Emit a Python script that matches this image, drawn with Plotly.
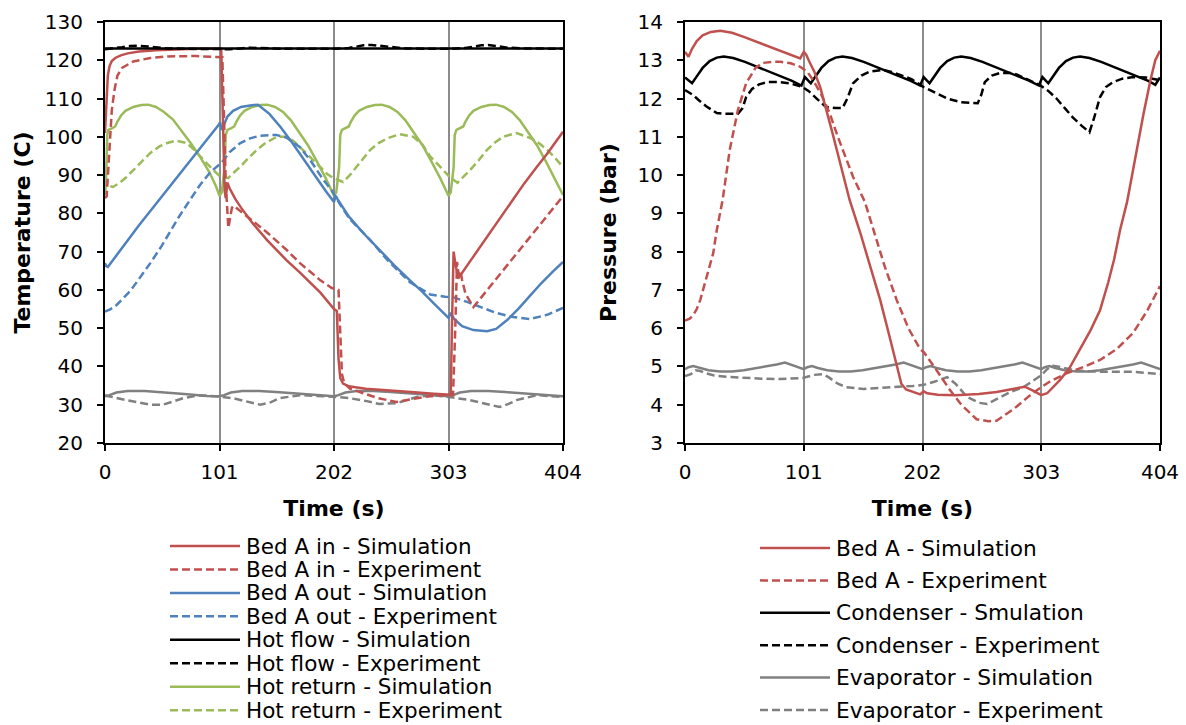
import plotly.graph_objects as go

W, H = 1186, 725

# ---------------- Left chart: temperatures (C) vs time (s) ----------------
hot_flow_sim_t = [0, 101, 202, 303, 404]
hot_flow_sim_v = [123.1, 123.1, 123.1, 123.1, 123.1]

hot_flow_exp_t = [0, 8, 15, 22, 30, 38, 46, 55, 70, 85, 101, 110, 120, 128, 136, 145, 160, 180, 202,
                  215, 222, 228, 235, 242, 250, 265, 285, 303, 318, 326, 332, 338, 345, 355, 370, 390, 404]
hot_flow_exp_v = [122.9, 123.1, 123.4, 123.7, 123.8, 123.6, 123.3, 123.1, 123.0, 123.0, 122.9, 122.9, 123.1,
                  123.3, 123.2, 123.1, 123.0, 123.0, 123.0, 123.2, 123.6, 123.9, 124.0, 123.8, 123.4, 123.1,
                  123.0, 123.0, 123.2, 123.6, 123.9, 124.0, 123.7, 123.3, 123.1, 123.0, 123.0]

bed_in_sim_t = [0, 0.7, 1.5, 2.5, 4, 6, 9, 14, 20, 30, 45, 60, 80, 100, 102.5, 104, 105.5, 106.5, 108, 110,
                115, 120, 130, 143, 160, 172, 190, 202, 204.5, 206, 207.5, 210, 215, 230, 250, 270, 290, 305,
                306, 307.5, 309, 311.5, 320, 330, 340, 350, 360, 370, 380, 390, 404]
bed_in_sim_v = [101.0, 106, 112, 116, 118.5, 119.8, 120.6, 121.3, 121.8, 122.3, 122.6, 122.8, 123.0, 123.0,
                123.0, 105, 86, 84, 88, 86.5, 83.7, 81.5, 77.5, 73, 67.8, 64.5, 59.3, 55, 54.5, 42, 37, 35.5,
                34.8, 34.2, 33.7, 33.3, 32.9, 32.6, 50, 70, 67, 63, 66.6, 70.9, 75.2, 79.5, 83.8, 87.9, 91.8,
                95.6, 101.3]

bed_in_exp_t = [0, 1.5, 3, 4.5, 6, 8.5, 11, 15, 25, 40, 55, 80, 100, 103.5, 105, 106.5, 108.8, 110.5, 112,
                113.5, 120, 130, 143, 160, 172, 190, 200, 206, 207.5, 209, 211, 216, 228, 240, 257, 270, 281,
                298, 307, 309, 310.5, 312, 313.5, 315, 318, 325, 340, 355, 370, 385, 404]
bed_in_exp_v = [84, 84.5, 92, 101, 107, 112.5, 116, 118, 119.7, 120.6, 121, 121.1, 121, 120.8, 105, 88, 76.2,
                79, 81.5, 82, 80.5, 78, 75, 70.5, 67, 62.5, 60.5, 60, 48, 38, 35.7, 34.2, 33, 31.8, 30.7,
                31.3, 32, 32.5, 32.5, 50, 67.3, 64, 65, 62.6, 59, 55.5, 61, 66.5, 72, 77.5, 84.5]

bed_out_sim_t = [0, 1, 2.5, 5, 10, 20, 30, 40, 50, 60, 70, 80, 90, 100, 101.5, 103, 105, 108, 113, 120, 128,
                 135, 145, 155, 165, 175, 185, 195, 202, 203.5, 205, 215, 228, 240, 255, 269, 280, 290, 300,
                 303, 305, 308, 315, 325, 337, 345, 355, 365, 375, 385, 395, 404]
bed_out_sim_v = [67, 66.2, 66, 67, 69.2, 73, 76.9, 80.6, 84.4, 88.1, 91.8, 95.6, 99.3, 103, 103.8, 101.8,
                 103.2, 105.3, 106.8, 107.8, 108.2, 108.4, 106, 102.5, 98.5, 94.2, 89.8, 85.7, 83, 84.6, 83.8,
                 79.2, 74.8, 71, 66.5, 62.5, 59.5, 56.5, 53.5, 52.7, 54, 52.4, 50.5, 49.5, 49.2, 49.8, 52.2,
                 55.2, 58.5, 61.8, 64.8, 67.3]

bed_out_exp_t = [0, 5, 10, 15, 20, 25, 30, 40, 50, 56, 65, 75, 84, 93, 103, 110, 119, 128, 137, 151, 160,
                 172, 182, 192, 200, 207, 216, 234, 250, 269, 287, 300, 307, 320, 331, 345, 360, 375, 390, 404]
bed_out_exp_v = [54.3, 55, 56, 57.5, 59, 60.8, 62.8, 67, 71.5, 74.5, 79, 83.5, 87.5, 90.8, 93.3, 96, 98.3,
                 99.6, 100.3, 100.5, 99.8, 97.3, 93.5, 89, 86, 82.5, 78.5, 73, 67.5, 62, 58.8, 58.2, 58.1,
                 56.8, 55.5, 54, 52.9, 52.4, 53.5, 55.3]

hot_ret_sim_t = [0, 0.8, 2, 3, 6, 9, 11, 14, 18, 25, 32, 38, 45, 52, 60, 68, 76, 84, 92, 98,
                 101, 103, 105.5, 106.5, 108, 111, 114, 116, 119, 123, 130, 137, 143, 150, 157, 164, 171, 179, 187, 195,
                 202, 204, 206.5, 207.5, 209, 212, 215, 217, 220, 224, 231, 238, 244, 251, 258, 265, 272, 280, 288, 296,
                 303, 305, 307.5, 308.5, 310, 313, 316, 318, 321, 325, 332, 339, 345, 352, 359, 366, 373, 381, 389, 397,
                 404]
hot_ret_sim_v = [84.8, 88, 100.5, 101.8, 102.2, 102.7, 104, 105.5, 106.8, 107.8, 108.3, 108.4, 107.8, 106.5,
                 104.5, 101.5, 98.2, 94.7, 90.8, 87,
                 84.6, 85.5, 92, 100.5, 101.8, 102.2, 102.7, 104, 105.5, 106.8, 107.8, 108.3, 108.4, 107.8, 106.5,
                 104.3, 101.3, 97.8, 93.5, 89,
                 84.6, 85.5, 92, 100.5, 101.8, 102.2, 102.7, 104, 105.5, 106.8, 107.8, 108.3, 108.4, 107.8, 106.5,
                 104.3, 101.3, 97.8, 93.5, 89,
                 84.6, 85.5, 92, 100.5, 101.8, 102.2, 102.7, 104, 105.5, 106.8, 107.8, 108.3, 108.4, 107.8, 106.5,
                 104.3, 101.3, 97.8, 93.5, 89,
                 84.8]

hot_ret_exp_t = [0, 1.6, 4, 7, 13, 19, 25, 32, 40, 48, 55, 63, 72, 78, 84, 90, 96, 101, 104, 108.6, 113, 119,
                 126, 134, 142, 151.5, 160, 166, 172, 178, 184, 190, 196, 201, 205, 210, 216, 222, 228, 234, 241,
                 249, 260, 272, 280, 287, 293, 298, 304, 311, 316, 322, 330, 337, 344, 351, 363, 375, 383, 390,
                 397, 404]
hot_ret_exp_v = [89.8, 88, 87.2, 86.9, 88, 89.5, 91.3, 93.5, 95.8, 97.5, 98.4, 99, 98.4, 96.8, 94.8, 93, 91.2,
                 89.8, 89.5, 89.2, 90.5, 92.1, 94.3, 96.6, 98.5, 100, 100, 99, 97.3, 95.6, 93.9, 92, 90.3, 89.3,
                 88.8, 88.2, 90, 92.1, 94.4, 96.6, 98.3, 99.6, 100.7, 100, 98, 94.8, 93, 91.3, 89.5, 88, 89.5,
                 91.3, 94, 96.6, 98.5, 100, 101, 99.7, 98.3, 96.6, 94.5, 92.1]

cold_sim_t = [0, 4, 10, 20, 35, 50, 70, 90, 101, 105, 111, 121, 136, 151, 171, 191,
              202, 206, 212, 222, 237, 252, 272, 292, 303, 307, 313, 323, 338, 353, 373, 393, 404]
cold_sim_v = [32.2, 32.5, 33.2, 33.6, 33.6, 33.3, 32.8, 32.3, 32.2, 32.5, 33.2, 33.6, 33.6, 33.3, 32.8, 32.3,
              32.2, 32.5, 33.2, 33.6, 33.6, 33.3, 32.8, 32.3, 32.2, 32.5, 33.2, 33.6, 33.6, 33.3, 32.8, 32.3,
              32.2]

cold_exp_t = [0, 2, 19, 30, 40, 51, 60, 69, 84, 95, 102, 113, 125, 137, 146, 154, 172, 190, 201, 216, 230,
              242, 257, 266, 275, 287, 304, 322, 335, 348, 356, 363, 381, 395, 404]
cold_exp_v = [32.5, 32.3, 31.2, 30.5, 30, 30, 30.8, 31.7, 32.5, 32.3, 32.1, 31.7, 30.8, 30, 30.6, 31.7, 32.5,
              32.3, 32.1, 31.7, 31, 30.2, 30.4, 31.2, 32, 32.5, 32, 31.2, 30.3, 29.4, 30.2, 31.2, 32.5, 32.3, 32]

# ---------------- Right chart: pressures (bar) vs time (s) ----------------
bedp_sim_t = [0, 3, 6, 10, 15, 22, 30, 40, 50, 60, 70, 80, 90, 98, 101, 103, 106, 110, 115, 120, 125, 130,
              135, 140, 149, 158, 166, 173, 180, 184, 188, 195, 200, 203, 206, 215, 230, 250, 265, 280, 289, 296,
              303, 308, 313, 319, 327, 335, 345, 353, 360, 365, 370, 376, 383, 390, 396, 400, 404]
bedp_sim_v = [13.22, 13.09, 13.3, 13.5, 13.65, 13.74, 13.77, 13.72, 13.61, 13.49, 13.37, 13.26, 13.15, 13.05,
              13.22, 13.15, 12.95, 12.7, 12.3, 11.75, 11.15, 10.55, 9.95, 9.35, 8.5, 7.6, 6.74, 5.9, 5.05,
              4.55, 4.4, 4.32, 4.27, 4.35, 4.3, 4.26, 4.25, 4.28, 4.33, 4.42, 4.47, 4.37, 4.25, 4.3, 4.45,
              4.65, 4.96, 5.4, 5.95, 6.47, 7.2, 7.8, 8.56, 9.3, 10.47, 11.6, 12.5, 13.0, 13.25]

bedp_exp_t = [0, 4, 7, 10, 13, 18, 24, 27, 32, 38, 45, 52, 60, 66, 75, 81, 90, 98, 104, 109, 116, 123, 130,
              143, 153, 160, 170, 180, 190, 200, 203, 214, 225, 235, 248, 258, 265, 280, 296, 310, 325, 340,
              353, 367, 381, 393, 404]
bedp_exp_v = [6.2, 6.25, 6.34, 6.5, 6.74, 7.3, 7.96, 8.56, 9.35, 10.65, 11.7, 12.4, 12.8, 12.93, 12.96,
              12.96, 12.92, 12.83, 12.7, 12.48, 12.1, 11.62, 11.0, 9.95, 9.3, 8.6, 7.6, 6.74, 6.0, 5.45, 5.38,
              4.9, 4.4, 4.0, 3.62, 3.57, 3.58, 3.9, 4.31, 4.6, 4.83, 5.0, 5.17, 5.45, 5.87, 6.45, 7.1]

cond_sim_t = [0, 2, 6, 10, 15, 21, 27, 33, 41, 51, 61, 71, 81, 91, 99,
              102, 107, 111, 116, 122, 128, 134, 142, 152, 162, 172, 182, 192, 200,
              203, 208, 212, 217, 223, 229, 235, 243, 253, 263, 273, 283, 293, 301,
              304, 309, 313, 318, 324, 330, 336, 344, 354, 364, 374, 384, 394, 400, 404]
cond_sim_v = [12.55, 12.5, 12.4, 12.58, 12.8, 12.98, 13.07, 13.1, 13.06, 12.96, 12.84, 12.72, 12.6, 12.46, 12.34,
              12.56, 12.4, 12.58, 12.8, 12.98, 13.07, 13.1, 13.06, 12.96, 12.84, 12.72, 12.6, 12.46, 12.34,
              12.56, 12.4, 12.58, 12.8, 12.98, 13.07, 13.1, 13.06, 12.96, 12.84, 12.72, 12.6, 12.46, 12.34,
              12.56, 12.4, 12.58, 12.8, 12.98, 13.07, 13.1, 13.06, 12.96, 12.84, 12.72, 12.6, 12.46, 12.36, 12.55]

cond_exp_t = [0, 4, 7, 12, 18, 27, 35, 45, 49, 52, 57, 63, 70, 80, 89, 100, 105, 112, 120, 128, 134, 138, 143,
              150, 157, 168, 175, 183, 193, 203, 213, 223, 235, 249, 252, 255, 261, 268, 279, 290, 302, 309, 316,
              323, 330, 337, 344, 348, 353, 358, 364, 372, 381, 392, 404]
cond_exp_v = [12.22, 12.15, 12.09, 11.95, 11.8, 11.62, 11.6, 11.6, 11.75, 12.04, 12.25, 12.37, 12.43, 12.43,
              12.4, 12.3, 12.2, 12.0, 11.78, 11.75, 11.75, 12.0, 12.4, 12.6, 12.7, 12.75, 12.7, 12.62, 12.5,
              12.3, 12.15, 12.0, 11.9, 11.88, 12.1, 12.43, 12.6, 12.67, 12.67, 12.52, 12.35, 12.2, 12.0, 11.75,
              11.5, 11.3, 11.12, 11.5, 12.04, 12.3, 12.43, 12.52, 12.56, 12.55, 12.48]

evap_sim_t = [0, 3, 7, 12, 20, 30, 40, 50, 60, 70, 78, 85,
              101, 104, 108, 113, 121, 131, 141, 151, 161, 171, 179, 186,
              202, 205, 209, 214, 222, 232, 242, 252, 262, 272, 280, 287,
              303, 306, 310, 315, 323, 333, 343, 353, 363, 373, 381, 388, 404]
evap_sim_v = [4.93, 4.98, 5.01, 4.96, 4.9, 4.87, 4.87, 4.9, 4.95, 5.0, 5.05, 5.1,
              4.93, 4.98, 5.01, 4.96, 4.9, 4.87, 4.87, 4.9, 4.95, 5.0, 5.05, 5.1,
              4.93, 4.98, 5.01, 4.96, 4.9, 4.87, 4.87, 4.9, 4.95, 5.0, 5.05, 5.1,
              4.93, 4.98, 5.01, 4.96, 4.9, 4.87, 4.87, 4.9, 4.95, 5.0, 5.05, 5.1, 4.93]

evap_exp_t = [0, 5, 9, 13, 18, 24, 35, 52, 65, 81, 100, 110, 117, 122, 130, 137, 152, 165, 180, 194, 203,
              212, 223, 230, 240, 250, 257, 262, 268, 278, 288, 296, 303, 308, 313, 320, 330, 340, 353, 368,
              381, 392, 404]
evap_exp_v = [4.75, 4.8, 4.9, 4.88, 4.82, 4.77, 4.73, 4.7, 4.68, 4.67, 4.7, 4.78, 4.8, 4.72, 4.55, 4.46,
              4.41, 4.44, 4.46, 4.49, 4.52, 4.6, 4.72, 4.55, 4.2, 4.05, 4.02, 4.1, 4.2, 4.35, 4.46, 4.62,
              4.77, 4.93, 5.02, 4.98, 4.91, 4.88, 4.86, 4.86, 4.86, 4.83, 4.8]

x_ticks = [0, 101, 202, 303, 404]

left_legend = ["Bed A in - Simulation", "Bed A in - Experiment", "Bed A out - Simulation",
               "Bed A out - Experiment", "Hot flow - Simulation", "Hot flow - Experiment",
               "Hot return - Simulation", "Hot return - Experiment"]
right_legend = ["Bed A - Simulation", "Bed A - Experiment", "Condenser - Smulation",
                "Condenser - Experiment", "Evaporator - Simulation", "Evaporator - Experiment"]

RED, BLUE, GREEN, BLACK, GRAY = "#C0504D", "#4F81BD", "#9BBB59", "#000000", "#808080"
DASH = "8px,4px"
FONT = "DejaVu Sans"
LW = 2.5

fig = go.Figure()


def add(t, v, color, dash, xa, ya, name):
    fig.add_trace(go.Scatter(x=t, y=v, mode="lines", name=name, showlegend=False,
                             line=dict(color=color, width=LW, dash=dash),
                             xaxis=xa, yaxis=ya, hoverinfo="skip"))


# left chart traces
add(cold_sim_t, cold_sim_v, GRAY, "solid", "x", "y", "Cold - Simulation")
add(cold_exp_t, cold_exp_v, GRAY, DASH, "x", "y", "Cold - Experiment")
add(hot_ret_exp_t, hot_ret_exp_v, GREEN, DASH, "x", "y", left_legend[7])
add(hot_ret_sim_t, hot_ret_sim_v, GREEN, "solid", "x", "y", left_legend[6])
add(bed_out_exp_t, bed_out_exp_v, BLUE, DASH, "x", "y", left_legend[3])
add(bed_out_sim_t, bed_out_sim_v, BLUE, "solid", "x", "y", left_legend[2])
add(bed_in_exp_t, bed_in_exp_v, RED, DASH, "x", "y", left_legend[1])
add(bed_in_sim_t, bed_in_sim_v, RED, "solid", "x", "y", left_legend[0])
add(hot_flow_sim_t, hot_flow_sim_v, BLACK, "solid", "x", "y", left_legend[4])
add(hot_flow_exp_t, hot_flow_exp_v, BLACK, DASH, "x", "y", left_legend[5])

# right chart traces
add(evap_exp_t, evap_exp_v, GRAY, DASH, "x2", "y2", right_legend[5])
add(evap_sim_t, evap_sim_v, GRAY, "solid", "x2", "y2", right_legend[4])
add(cond_exp_t, cond_exp_v, BLACK, DASH, "x2", "y2", right_legend[3])
add(cond_sim_t, cond_sim_v, BLACK, "solid", "x2", "y2", right_legend[2])
add(bedp_exp_t, bedp_exp_v, RED, DASH, "x2", "y2", right_legend[1])
add(bedp_sim_t, bedp_sim_v, RED, "solid", "x2", "y2", right_legend[0])

tickfont = dict(family=FONT, size=20, color="black")
titlefont = dict(family=FONT, size=22, color="black", weight="bold")
ydom = [1 - 443 / H, 1 - 22 / H]

common_x = dict(range=[0, 404], tickvals=x_ticks, showgrid=True, gridcolor="#8C8C8C", gridwidth=2,
                zeroline=False, showline=True, linecolor="black", linewidth=2, mirror=True,
                ticks="outside", ticklen=6, tickwidth=2, tickcolor="black", tickfont=tickfont,
                ticklabelstandoff=4, automargin=False)
common_y = dict(showgrid=False, zeroline=False, showline=True, linecolor="black", linewidth=2, mirror=True,
                ticks="outside", ticklen=6, tickwidth=2, tickcolor="black", tickfont=tickfont,
                ticklabelstandoff=10, domain=ydom, automargin=False)

fig.update_layout(
    width=W, height=H, margin=dict(l=0, r=0, t=0, b=0, autoexpand=False),
    paper_bgcolor="white", plot_bgcolor="white", showlegend=False,
    font=dict(family=FONT, color="black"),
    xaxis=dict(common_x, domain=[105 / W, 563 / W], anchor="y",
               title=dict(text="Time (s)", font=titlefont, standoff=18)),
    yaxis=dict(common_y, range=[20, 130], dtick=10, anchor="x",
               title=dict(text="Temperature (C)", font=titlefont, standoff=8)),
    xaxis2=dict(common_x, domain=[685 / W, 1160 / W], anchor="y2",
                title=dict(text="Time (s)", font=titlefont, standoff=18)),
    yaxis2=dict(common_y, range=[3, 14], dtick=1, anchor="x2",
                title=dict(text="Pressure (bar)", font=titlefont, standoff=15)),
)

# legends (drawn as keys + text below each chart)
left_styles = [(RED, "solid"), (RED, DASH), (BLUE, "solid"), (BLUE, DASH),
               (BLACK, "solid"), (BLACK, DASH), (GREEN, "solid"), (GREEN, DASH)]
right_styles = [(RED, "solid"), (RED, DASH), (BLACK, "solid"), (BLACK, DASH),
                (GRAY, "solid"), (GRAY, DASH)]

shapes, annots = [], []


def legend_block(labels, styles, x0, x1, xt, y0, dy, fs):
    for i, (lab, (col, dsh)) in enumerate(zip(labels, styles)):
        yy = 1 - (y0 + i * dy) / H
        shapes.append(dict(type="line", xref="paper", yref="paper", x0=x0 / W, x1=x1 / W, y0=yy, y1=yy,
                           line=dict(color=col, width=LW, dash=dsh)))
        annots.append(dict(xref="paper", yref="paper", x=xt / W, y=yy, text=lab, showarrow=False,
                           xanchor="left", yanchor="middle", borderpad=0,
                           font=dict(family=FONT, size=fs, color="black")))


legend_block(left_legend, left_styles, 170, 240, 245, 546, 23.45, 21.5)
legend_block(right_legend, right_styles, 760, 830, 835, 548, 32.4, 21.7)

fig.update_layout(shapes=shapes, annotations=annots)
fig.write_html("out.html", config={"displayModeBar": False},
               post_script="document.body.style.margin='0';document.body.style.overflow='hidden';")
